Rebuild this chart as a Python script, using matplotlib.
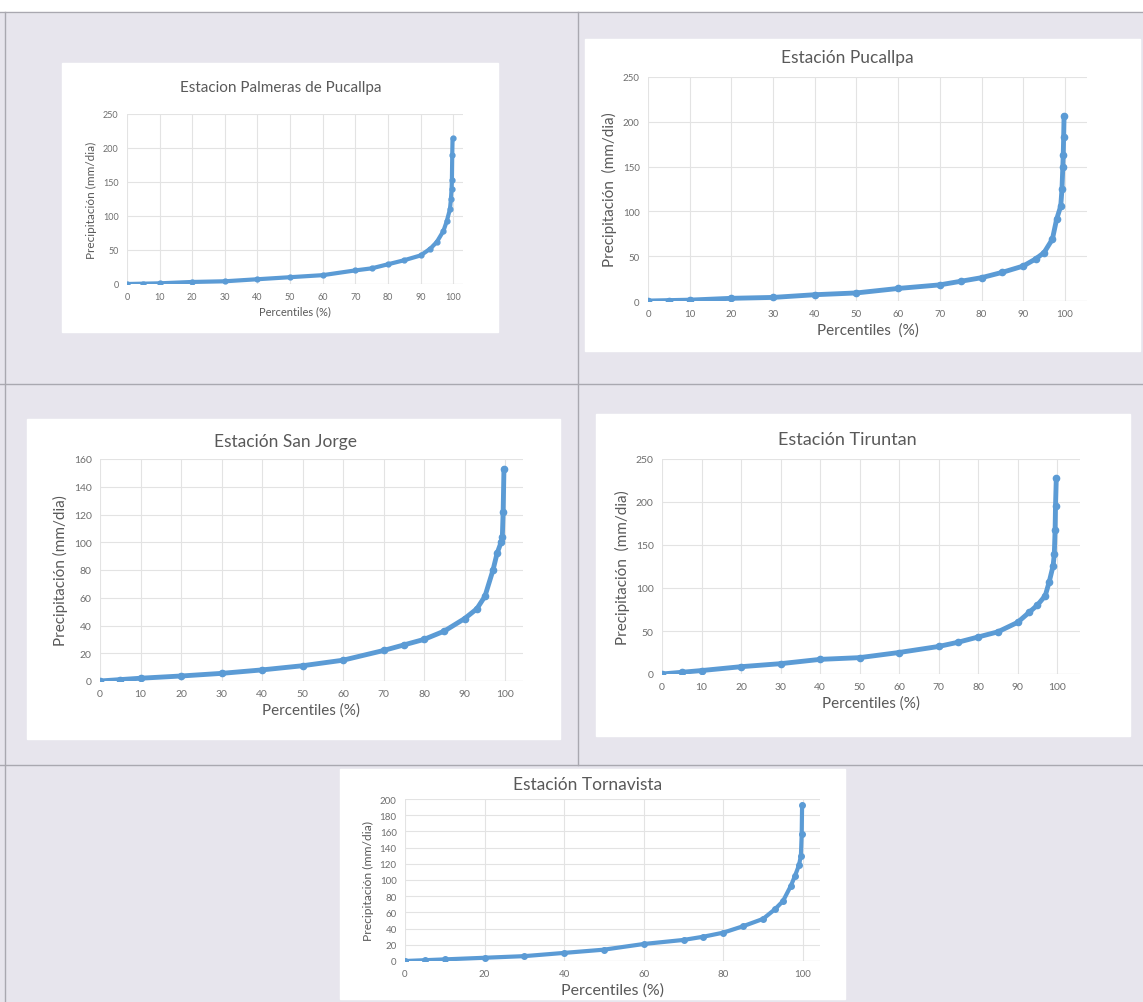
import numpy as np
import matplotlib
matplotlib.use("Agg")
from matplotlib import pyplot as plt
from matplotlib.patches import Rectangle
from matplotlib.lines import Line2D

W, H = 1143, 1003

# percentile (%) vs precipitation (mm/dia)
pct_palmeras = [0, 5, 10, 20, 30, 40, 50, 60, 70, 75, 80, 85, 90, 93, 95, 97, 98, 99, 99.3, 99.5, 99.6, 99.7, 99.8]
pp_palmeras = [0, 0.5, 1, 3, 4, 7, 10, 13, 20, 23, 29, 35, 42, 52, 62, 78, 92, 110, 125, 140, 153, 190, 214]

pct_pucallpa = [0, 5, 10, 20, 30, 40, 50, 60, 70, 75, 80, 85, 90, 93, 95, 97, 98, 99, 99.3, 99.5, 99.6, 99.7, 99.8]
pp_pucallpa = [0, 0.5, 1, 3, 4, 7, 9, 14, 18, 22, 26, 32, 39, 47, 54, 69, 91, 106, 125, 150, 163, 183, 207]

pct_sanjorge = [0, 5, 10, 20, 30, 40, 50, 60, 70, 75, 80, 85, 90, 93, 95, 97, 98, 99, 99.3, 99.5, 99.7]
pp_sanjorge = [0, 1, 2, 3.6, 5.5, 8, 11, 15, 22, 26, 30, 36, 45, 52, 61, 80, 92, 100, 104, 122, 153]

pct_tiruntan = [0, 5, 10, 20, 30, 40, 50, 60, 70, 75, 80, 85, 90, 93, 95, 97, 98, 99, 99.3, 99.5, 99.6, 99.8]
pp_tiruntan = [0, 2, 4, 8.5, 12, 17, 19, 25, 32, 37, 43, 49, 60, 72, 80, 91, 107, 126, 140, 168, 195, 228]

pct_tornavista = [0, 5, 10, 20, 30, 40, 50, 60, 70, 75, 80, 85, 90, 93, 95, 97, 98, 99, 99.5, 99.7, 99.8]
pp_tornavista = [0, 1, 2, 4, 6, 10, 14, 21, 26, 30, 35, 43, 52, 64, 74, 93, 105, 118, 130, 157, 193]

titles = ["Estacion Palmeras de Pucallpa", "Estación Pucallpa", "Estación San Jorge",
          "Estación Tiruntan", "Estación Tornavista"]
ylabels = ["Precipitación (mm/dia)", "Precipitación  (mm/dia)", "Precipitación (mm/dia)",
           "Precipitación  (mm/dia)", "Precipitación (mm/dia)"]
xlabels = ["Percentiles (%)", "Percentiles  (%)", "Percentiles (%)",
           "Percentiles (%)", "Percentiles (%)"]
series = [(pct_palmeras, pp_palmeras), (pct_pucallpa, pp_pucallpa), (pct_sanjorge, pp_sanjorge),
          (pct_tiruntan, pp_tiruntan), (pct_tornavista, pp_tornavista)]
yticks = [np.arange(0, 251, 50), np.arange(0, 251, 50), np.arange(0, 161, 20),
          np.arange(0, 251, 50), np.arange(0, 201, 20)]
xticks = [np.arange(0, 101, 10)] * 4 + [np.arange(0, 101, 20)]

# layout in pixels: white box (x0, y0, x1, y1), axes (x0, y0_top, x1, y1_bottom), xmax
boxes = [(62, 64, 498, 333), (585, 40, 1140, 352), (27, 420, 560, 740),
         (596, 415, 1130, 737), (340, 770, 845, 1000)]
axes_px = [(127, 115, 463, 285), (648, 78, 1087, 302), (100, 460, 523, 682),
           (662, 460, 1080, 675), (405, 800, 820, 962)]
title_xy = [(281, 88), (847, 58), (286, 442), (847, 440), (588, 785)]
xmaxs = [103, 105.3, 104.4, 105.8, 104.3]
sizes = [  # title, ticks, ylabel, xlabel, marker size, line width
    (11, 6.5, 8.5, 8, 3.5, 3.0), (12.5, 7, 11, 11, 4.5, 3.5), (12.5, 7.5, 11, 11, 4.5, 3.5),
    (13, 7.5, 11, 11, 4.5, 3.5), (12.5, 7, 8.7, 11.5, 4, 3.0)]

blue = "#5b9bd5"
gray = "#595959"
tickgray = "#6e6e6e"

plt.rcParams['font.family'] = ['Lato', 'DejaVu Sans']
fig = plt.figure(figsize=(W / 100, H / 100), dpi=100)
fig.patch.set_facecolor("#e7e5ed")

def fx(x):
    return x / W

def fy(y):
    return 1 - y / H

# white top strip and separators
fig.add_artist(Rectangle((0, fy(13)), 1, 13 / H, transform=fig.transFigure, color="white", zorder=0))
for seg in [((0, 1143), (13, 13)), ((0, 1143), (385, 385)), ((0, 1143), (766, 766)),
            ((578, 578), (13, 766)), ((5, 5), (13, 1003))]:
    fig.add_artist(Line2D([fx(v) for v in seg[0]], [fy(v) for v in seg[1]],
                          transform=fig.transFigure, color="#a9a8b0", lw=1.0, zorder=1))

for i in range(5):
    bx0, by0, bx1, by1 = boxes[i]
    fig.add_artist(Rectangle((fx(bx0), fy(by1)), (bx1 - bx0) / W, (by1 - by0) / H,
                             transform=fig.transFigure, color="white", zorder=2))
    ax0, ay0, ax1, ay1 = axes_px[i]
    ax = fig.add_axes([fx(ax0), fy(ay1), (ax1 - ax0) / W, (ay1 - ay0) / H])
    ax.set_zorder(3)
    ts, ks, yls, xls, ms, lw = sizes[i]
    x, y = series[i]
    ax.plot(x, y, color=blue, lw=lw, marker="o", ms=ms, zorder=3, solid_capstyle="round")
    ax.set_xlim(0, xmaxs[i])
    ax.set_ylim(0, yticks[i][-1])
    ax.set_xticks(xticks[i])
    ax.set_yticks(yticks[i])
    ax.grid(True, color="#e3e3e3", lw=0.8)
    ax.set_axisbelow(True)
    for s in ["top", "right", "bottom", "left"]:
        ax.spines[s].set_visible(False)
    ax.axhline(0, color="#d0d0d0", lw=0.8, zorder=1)
    ax.tick_params(length=0, labelsize=ks, colors=tickgray, pad=6)
    ax.set_facecolor("white")
    ax.set_xlabel(xlabels[i], fontsize=xls, color=gray, labelpad=3)
    ax.set_ylabel(ylabels[i], fontsize=yls, color=gray, labelpad=4)
    tx, ty = title_xy[i]
    fig.text(fx(tx), fy(ty), titles[i], fontsize=ts, color=gray, ha="center", va="center", zorder=4)

fig.savefig("out.png", dpi=100, facecolor=fig.get_facecolor())
